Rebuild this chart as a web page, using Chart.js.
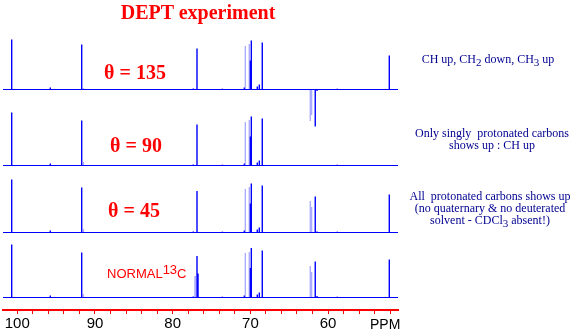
<!DOCTYPE html>
<html>
<head>
<meta charset="utf-8">
<script src="https://cdn.jsdelivr.net/npm/chart.js@4/dist/chart.umd.min.js"></script>
<style>
  body { margin: 0; background: #fff; }
  #wrap { position: relative; width: 581px; height: 331px; overflow: hidden; }
  #c { position: absolute; left: 0; top: 0; }
  .lbl { position: absolute; white-space: pre; }
  .big { font: bold 20px/20px "Liberation Serif", serif; color: #ff0000; }
  .note { font: 12px/12px "Liberation Serif", serif; color: #000090; text-align: center; }
  .note sub { font-size: 11px; vertical-align: -3px; line-height: 0; }
</style>
</head>
<body>
<div id="wrap">
  <canvas id="c" width="581" height="331"></canvas>
  <div class="lbl big" style="left:98px; width:200px; top:2px; text-align:center;">DEPT experiment</div>
  <div class="lbl big" style="left:85px; width:100px; top:62px; text-align:center;">θ = 135</div>
  <div class="lbl big" style="left:86px; width:100px; top:135px; text-align:center;">θ = 90</div>
  <div class="lbl big" style="left:84px; width:100px; top:200px; text-align:center;">θ = 45</div>
  <div class="lbl" style="left:107px; top:267px; font:13px/13px 'Liberation Sans', sans-serif; color:#ff0000;">NORMAL<span style="position:relative; top:-4px;">13</span>C</div>
  <div class="lbl note" style="left:398px; width:180px; top:53px;">CH up, CH<sub>2</sub> down, CH<sub>3</sub> up</div>
  <div class="lbl note" style="left:402px; width:180px; top:127px;">Only singly  protonated carbons
shows up : CH up</div>
  <div class="lbl note" style="left:400px; width:180px; top:190px;">All  protonated carbons shows up
(no quaternary &amp; no deuterated
solvent - CDCl<sub>3</sub> absent!)</div>
  <div class="lbl" style="left:370px; top:317px; font:14px/15px 'Liberation Sans', sans-serif; color:#000;">PPM</div>
</div>
<script>
// chemical shifts (ppm) of the main lines
const mainShifts = [100.72, 95.75, 91.71, 77.35, 76.87, 76.74, 70.78, 70.01, 69.88, 69.11, 68.85, 68.47, 61.65, 61.42, 52.12];
const main135 = [50, 2, 45, 1, 41, 0, 2, 29, 49, 3, 5, 47, -37, -1.5, 34];
const main90 = [53, 2, 45, 1, 41, 0, 2, 29, 49, 3, 5, 47, 0, 0, 0];
const main45 = [53, 2, 45, 1, 41.5, 0, 2, 29, 49, 3, 5, 47, 36, 1, 38];
const mainNormal = [53, 2, 45, 1, 41.5, 24, 2, 29.5, 49.5, 3, 5, 47, 36, 1.5, 38];

// minor lines (drawn light / dotted)
const minorShifts = [91.5, 77.13, 77.0, 73.6, 70.65, 70.14, 62.29, 62.12, 58.82];
const minor135 = [1, 0, 0, 1, 44, 45, -32, -26, 1];
const minor90 = [3, 0, 0, 1, 44, 45, 0, 0, 1];
const minor45 = [3, 0, 0, 1, 44, 45, 32, 25.6, 1];
const minorNormal = [3, 21, 21, 1, 44.5, 45.5, 32, 25.6, 1];

const xTicksStep = 2;
const ppmMin = 51.0, ppmMax = 101.84;

// panel baselines in the hidden y scale (0..310)
const panelBase = [220.5, 144.5, 77.5, 12.5];
const panels = [
  { main: main135, minor: minor135 },
  { main: main90, minor: minor90 },
  { main: main45, minor: minor45 },
  { main: mainNormal, minor: minorNormal },
];

function sticks(shifts, vals, base) {
  const pts = [];
  shifts.forEach((s, i) => {
    if (!vals[i]) return;
    pts.push({ x: s, y: base });
    pts.push({ x: s, y: base + vals[i] });
    pts.push({ x: s, y: null });
  });
  return pts;
}

const datasets = [];
panels.forEach((p, k) => {
  const base = panelBase[k];
  datasets.push({
    data: [{ x: ppmMax, y: base }, { x: ppmMin, y: base }],
    borderColor: "#0000ff", borderWidth: 1.2,
  });
  datasets.push({
    data: sticks(minorShifts, p.minor, base),
    borderColor: "#5a5aff", borderWidth: 1.4, borderDash: [1, 1],
  });
  datasets.push({
    data: sticks(mainShifts, p.main, base),
    borderColor: "#0000ff", borderWidth: 1.4,
  });
});
datasets.forEach(d => {
  d.showLine = true;
  d.pointRadius = 0;
  d.spanGaps = false;
  d.clip = false;
});

new Chart(document.getElementById("c"), {
  type: "scatter",
  data: { datasets },
  options: {
    responsive: false,
    animation: false,
    events: [],
    layout: { padding: { left: 3, right: 183, top: 0, bottom: 0 } },
    plugins: { legend: { display: false }, tooltip: { enabled: false } },
    scales: {
      x: {
        type: "linear",
        reverse: true,
        min: ppmMin,
        max: ppmMax,
        afterFit: (s) => { s.height = 21; },
        border: { color: "#ff0000", width: 2 },
        grid: { drawOnChartArea: false, drawTicks: true, tickLength: 4, color: "#ff0000", lineWidth: 1 },
        ticks: {
          stepSize: xTicksStep,
          includeBounds: false,
          autoSkip: false,
          maxRotation: 0,
          padding: 1,
          color: "#000",
          font: { family: "Liberation Sans", size: 15 },
          callback: (v) => (Math.round(v) % 10 === 0 ? Math.round(v) : ""),
        },
      },
      y: { display: false, min: 0, max: 310 },
    },
  },
});
</script>
</body>
</html>
